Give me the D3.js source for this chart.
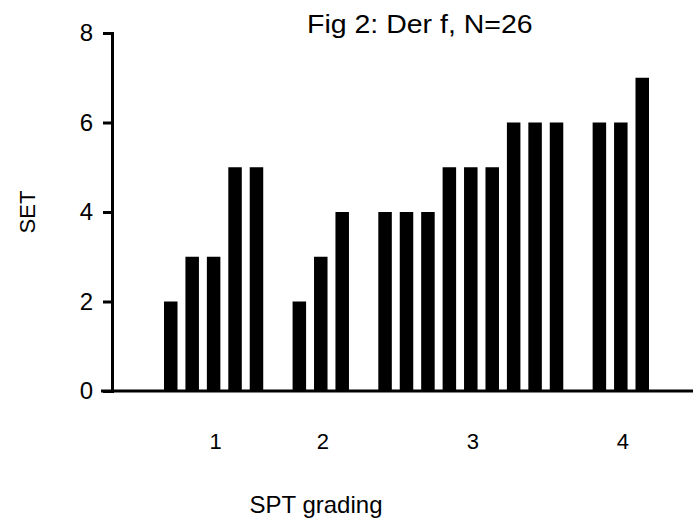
<!DOCTYPE html>
<html>
<head>
<meta charset="utf-8">
<script src="https://cdn.jsdelivr.net/npm/d3@7"></script>
<style>
  body { margin: 0; background: #fff; }
  text { font-family: "Liberation Sans", Arial, sans-serif; fill: #000; }
</style>
</head>
<body>
<div id="chart"></div>
<script>
// SPT grade groups and the SET value of each bar in them
var grades = ["1", "2", "3", "4"];
var grade1 = [2, 3, 3, 5, 5];
var grade2 = [2, 3, 4];
var grade3 = [4, 4, 4, 5, 5, 5, 6, 6, 6];
var grade4 = [6, 6, 7];
var yTicks = [0, 2, 4, 6, 8];
var title = "Fig 2: Der f, N=26";

var width = 695, height = 532;
var groups = [grade1, grade2, grade3, grade4];

// one slot per bar, with an empty slot between grades
var slots = [];
groups.forEach(function (vals, g) {
  if (g > 0) slots.push({ id: "gap" + g, gap: true });
  vals.forEach(function (v, i) {
    slots.push({ id: g + "-" + i, grade: grades[g], index: i, value: v });
  });
});

var xScale = d3.scaleBand()
  .domain(slots.map(function (d) { return d.id; }))
  .range([164, 649])
  .paddingInner(0.37)
  .paddingOuter(0);

var yScale = d3.scaleLinear()
  .domain([0, 8])
  .range([391, 33]);

var svg = d3.select("#chart").append("svg")
  .attr("width", width)
  .attr("height", height);

// bars
svg.selectAll("rect.bar")
  .data(slots.filter(function (d) { return !d.gap; }))
  .enter().append("rect")
  .attr("class", "bar")
  .attr("x", function (d) { return xScale(d.id); })
  .attr("width", xScale.bandwidth())
  .attr("y", function (d) { return yScale(d.value); })
  .attr("height", function (d) { return yScale(0) - yScale(d.value); })
  .attr("fill", "#000");

// y axis
var yAxis = svg.append("g")
  .attr("transform", "translate(112,0)")
  .call(d3.axisLeft(yScale).tickValues(yTicks).tickSize(9).tickSizeOuter(9).tickPadding(10));
yAxis.selectAll("path, line").attr("stroke", "#000").attr("stroke-width", 3);
yAxis.selectAll("text")
  .style("font-size", "24px")
  .attr("fill", "#000");

// x axis baseline
svg.append("line")
  .attr("x1", 101).attr("x2", 693)
  .attr("y1", yScale(0)).attr("y2", yScale(0))
  .attr("stroke", "#000").attr("stroke-width", 3);

// grade labels under the middle bar of each group
grades.forEach(function (g, gi) {
  var vals = groups[gi];
  var mid = slots.filter(function (d) { return d.grade === g; })[Math.floor(vals.length / 2)];
  svg.append("text")
    .attr("x", xScale(mid.id) + xScale.bandwidth() / 2 + 2)
    .attr("y", 449)
    .attr("text-anchor", "middle")
    .style("font-size", "22px")
    .text(g);
});

// axis titles
svg.append("text")
  .attr("x", 316).attr("y", 513)
  .attr("text-anchor", "middle")
  .style("font-size", "24px")
  .text("SPT grading");

svg.append("text")
  .attr("transform", "translate(35,212) rotate(-90)")
  .attr("text-anchor", "middle")
  .style("font-size", "22px")
  .text("SET");

// chart title
svg.append("text")
  .attr("transform", "translate(307,33) scale(1.14,1)")
  .style("font-size", "25px")
  .text(title);
</script>
</body>
</html>
